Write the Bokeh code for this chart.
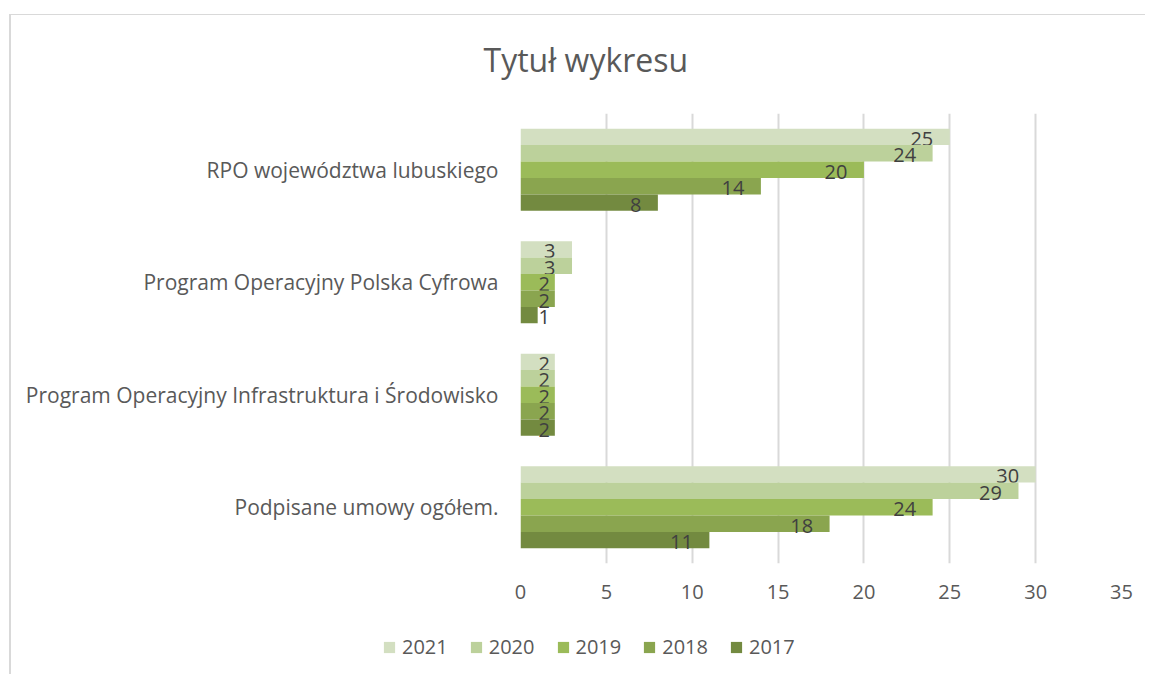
from bokeh.plotting import figure
from bokeh.models import ColumnDataSource, Range1d, FactorRange, Legend, LegendItem, SingleIntervalTicker, Title
from bokeh.transform import dodge
from bokeh.embed import file_html
from bokeh.resources import INLINE
from bokeh.core.properties import value

# ---- data ----
categories = ["RPO województwa lubuskiego",
              "Program Operacyjny Polska Cyfrowa",
              "Program Operacyjny Infrastruktura i Środowisko",
              "Podpisane umowy ogółem."]
years = ["2021", "2020", "2019", "2018", "2017"]
v2021 = [25, 3, 2, 30]
v2020 = [24, 3, 2, 29]
v2019 = [20, 2, 2, 24]
v2018 = [14, 2, 2, 18]
v2017 = [8, 1, 2, 11]
series = [v2021, v2020, v2019, v2018, v2017]
colors = ["#D3DFC1", "#BCD19B", "#9BBB59", "#8AA54F", "#738A40"]

FONT = "Open Sans"

p = figure(width=1136, height=620, output_backend="svg", toolbar_location=None,
           y_range=FactorRange(factors=list(reversed(categories)), range_padding=0),
           x_range=Range1d(0, 35),
           min_border_left=509, min_border_top=98, min_border_right=26, min_border_bottom=72)
p.margin = (14, 0, 0, 9)
p.styles = {"border-left": "2px solid #D9D9D9", "border-top": "1px solid #D9D9D9"}

p.title.text = "Tytuł wykresu"
p.title.text_font = FONT
p.title.text_font_size = "32px"
p.title.text_font_style = "normal"
p.title.text_color = "#595959"
p.title.align = "left"
p.title.offset = -37
p.title.standoff = 36
# spacer between title and plot area
p.add_layout(Title(text=" ", text_font_size="1px", standoff=12), "above")

bar_h = 0.146
offsets = [2, 1, 0, -1, -2]
for yr, vals, col, off in zip(years, series, colors, offsets):
    aligns = ["left" if v <= 2 else "right" for v in vals]
    lx = [0 if v <= 2 else v for v in vals]
    xo = [18 if v <= 2 else -16.5 for v in vals]
    src = ColumnDataSource(dict(cat=categories, val=vals, lab=[str(v) for v in vals],
                                lx=lx, align=aligns, xo=xo))
    p.hbar(y=dodge("cat", off * bar_h, range=p.y_range), right="val", left=0,
           height=bar_h, source=src, fill_color=col, line_color=None)
    p.text(x="lx", y=dodge("cat", off * bar_h, range=p.y_range), text="lab", source=src,
           text_align="align", text_baseline="middle", x_offset="xo", y_offset=2,
           text_font=value(FONT), text_font_size="20px", text_color="#404040")

p.xaxis.ticker = SingleIntervalTicker(interval=5)
p.xaxis.axis_line_color = None
p.xaxis.major_tick_line_color = None
p.xaxis.minor_tick_line_color = None
p.xaxis.major_tick_out = 0
p.xaxis.major_label_text_font = FONT
p.xaxis.major_label_text_font_size = "20px"
p.xaxis.major_label_text_color = "#595959"
p.xaxis.major_label_standoff = 17

p.yaxis.axis_line_color = None
p.yaxis.major_tick_line_color = None
p.yaxis.major_tick_out = 0
p.yaxis.major_label_text_font = FONT
p.yaxis.major_label_text_font_size = "21px"
p.yaxis.major_label_text_color = "#595959"
p.yaxis.major_label_standoff = 22

p.xgrid.grid_line_color = "#D9D9D9"
p.xgrid.grid_line_width = 2
p.ygrid.grid_line_color = None
p.outline_line_color = None

# ---- legend strip (separate figure; same series drawn outside its visible range) ----
lg = figure(width=1136, height=40, output_backend="svg", toolbar_location=None,
            x_axis_type=None, y_axis_type=None,
            x_range=Range1d(-2, -1), y_range=FactorRange(factors=categories),
            min_border_left=0, min_border_right=0, min_border_top=0, min_border_bottom=0)
lg.margin = (0, 0, 0, 9)
lg.styles = {"border-left": "2px solid #D9D9D9"}
lg.xgrid.grid_line_color = None
lg.ygrid.grid_line_color = None
lg.outline_line_color = None
items = []
for yr, vals, col in zip(years, series, colors):
    r = lg.hbar(y=categories, right=vals, left=0, height=0.1, fill_color=col, line_color=None)
    items.append(LegendItem(label=yr, renderers=[r]))
legend = Legend(items=items, orientation="horizontal", location=(371, 14),
                glyph_width=14, glyph_height=14, label_standoff=6, spacing=21, label_height=26,
                padding=0, margin=0, border_line_color=None, background_fill_alpha=0,
                label_text_font=FONT, label_text_font_size="20px", label_text_color="#595959")
lg.add_layout(legend, "center")

open("out.html", "w").write(file_html([p, lg], INLINE))
